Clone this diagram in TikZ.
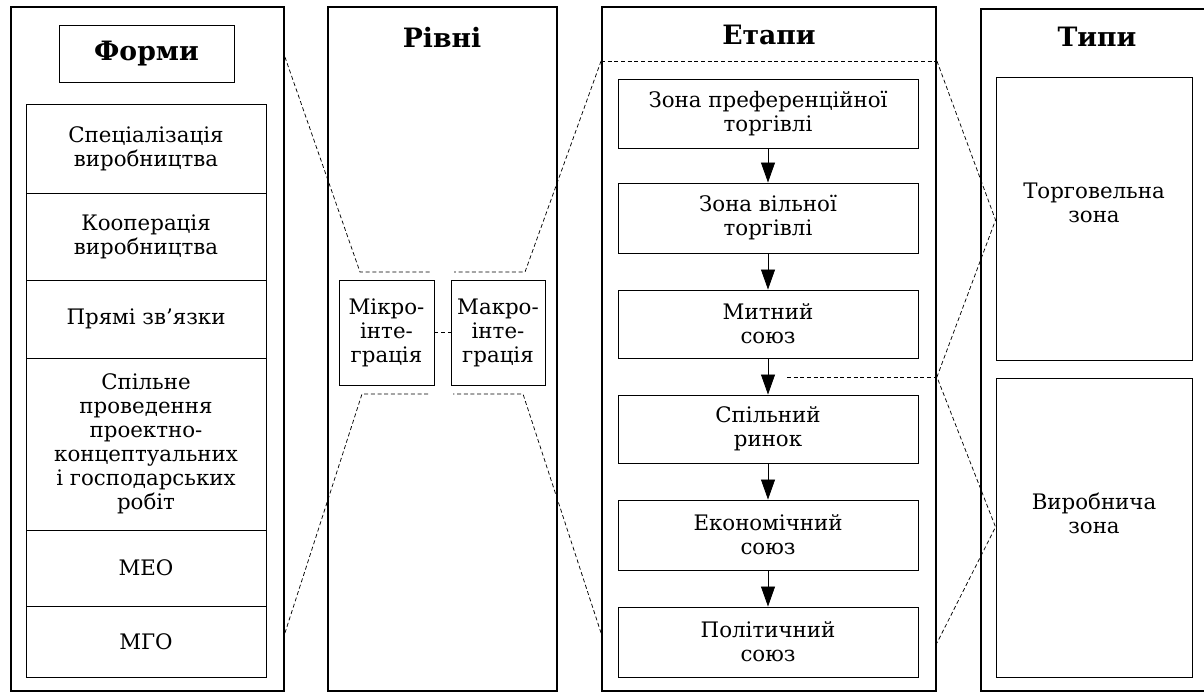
\documentclass[tikz,border=0pt]{standalone}
\usepackage{fontspec}
\setmainfont{DejaVu Serif}
\usetikzlibrary{arrows.meta}
\tikzset{
  panel/.style 2 args={draw, line width=1.4pt, minimum width=#1*0.75pt, minimum height=#2*0.75pt, inner sep=0pt},
  ibox/.style 2 args={draw, line width=0.7pt, minimum width=#1*0.75pt, minimum height=#2*0.75pt, inner sep=0pt, align=center, font=\fontsize{16}{18}\selectfont},
  ttl/.style={font=\fontsize{20}{22}\selectfont\bfseries},
  dsh/.style={dashed, line width=0.55pt, dash pattern=on 3pt off 2pt},
  flow/.style={line width=0.6pt, -{Triangle[length=15pt, width=10.5pt]}},
}
\begin{document}
\begin{tikzpicture}[x=0.75pt, y=-0.75pt]
\useasboundingbox (0,0) rectangle (1204,694);
% panels
\node[panel={273}{684}] (pA) at (147.5,349) {};
\node[panel={229}{684}] (pB) at (442.5,349) {};
\node[panel={334}{684}] (pC) at (769,349) {};
\coordinate (pDtl) at (981,9);
\coordinate (pDbl) at (981,691);
\draw[line width=1.4pt] (1215,9) -- (pDtl) -- (pDbl) -- (1215,691);
% titles
\node[draw, line width=0.7pt, minimum width=175*0.75pt, minimum height=57*0.75pt, ttl] (tA) at (146.5,53.5) {Форми};
\node[ttl] (tB) at (442,37) {Рівні};
\node[ttl] (tC) at (769,35) {Етапи};
\node[ttl] (tD) at (1097,37) {Типи};
% forms list
\node[ibox={240}{89}] (f1) at (146,148.5) {Спеціалізація\\виробництва};
\node[ibox={240}{87}] (f2) at (146,236.5) {Кооперація\\виробництва};
\node[ibox={240}{78}] (f3) at (146,319) {Прямі зв'язки};
\node[ibox={240}{172}] (f4) at (146,444) {Спільне\\проведення\\проектно-\\концептуальних\\і господарських\\робіт};
\node[ibox={240}{76}] (f5) at (146,568) {МЕО};
\node[ibox={240}{71}] (f6) at (146,641.5) {МГО};
% levels
\node[ibox={95}{105}] (mi) at (386.5,332.5) {Мікро-\\інте-\\грація};
\node[ibox={94}{105}] (ma) at (498,332.5) {Макро-\\інте-\\грація};
\draw[dsh] (mi.east) -- (ma.west);
% stages
\node[ibox={300}{69}] (s1) at (768,113.5) {Зона преференційної\\торгівлі};
\node[ibox={300}{70}] (s2) at (768,218) {Зона вільної\\торгівлі};
\node[ibox={300}{68}] (s3) at (768,324) {Митний\\союз};
\node[ibox={300}{68}] (s4) at (768,429) {Спільний\\ринок};
\node[ibox={300}{70}] (s5) at (768,535) {Економічний\\союз};
\node[ibox={300}{70}] (s6) at (768,642) {Політичний\\союз};
\foreach \a/\b in {s1/s2,s2/s3,s3/s4,s4/s5,s5/s6}
  \draw[flow] (\a.south) -- (\b.north);
% types
\node[ibox={196}{283}] (t1) at (1094,218.5) {Торговельна\\зона\\[6pt]};
\node[ibox={196}{299}] (t2) at (1094,527.5) {Виробнича\\зона\\[4pt]};
% dashed connectors
\coordinate (a1) at (pA.east |- 0,57);
\coordinate (a2) at (360,272);
\coordinate (a3) at (432,272);
\coordinate (b1) at (pA.east |- 0,633);
\coordinate (b2) at (362,394);
\coordinate (b3) at (430,394);
\coordinate (c1) at (pC.west |- 0,61);
\coordinate (c2) at (525,272);
\coordinate (c3) at (454,272);
\coordinate (d1) at (pC.west |- 0,633);
\coordinate (d2) at (523,394);
\coordinate (d3) at (453,394);
\draw[dsh] (a1) -- (a2) -- (a3);
\draw[dsh] (b1) -- (b2) -- (b3);
\draw[dsh] (c1) -- (c2) -- (c3);
\draw[dsh] (d1) -- (d2) -- (d3);
\draw[dsh] (c1) -- (pC.east |- 0,61);
\coordinate (e0) at (787,377);
\coordinate (e1) at (pC.east |- 0,61);
\coordinate (e2) at (t1.west |- 0,220);
\coordinate (e3) at (pC.east |- 0,377);
\coordinate (e4) at (t2.west |- 0,527);
\coordinate (e5) at (pC.east |- 0,643);
\draw[dsh] (e0) -- (e3);
\draw[dsh] (e1) -- (e2) -- (e3) -- (e4) -- (e5);
\end{tikzpicture}
\end{document}
